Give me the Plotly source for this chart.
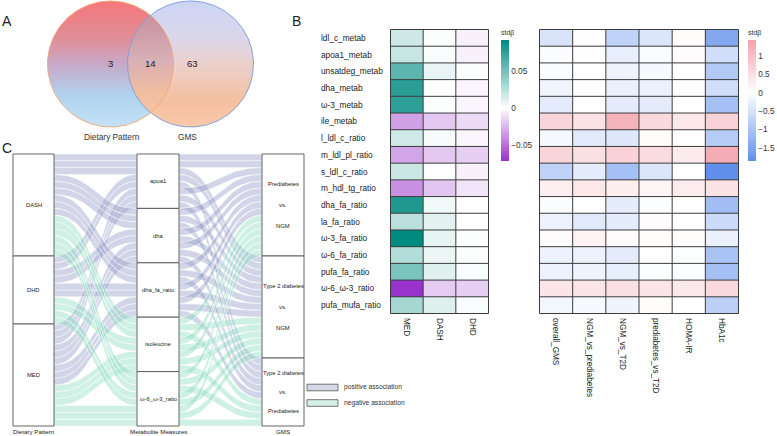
import numpy as np
import plotly.graph_objects as go

W, H = 777, 436
FONT = "Liberation Sans, Arial, sans-serif"

# ---------------- data ----------------
# Panel A: Venn counts
venn_labels = ["Dietary Pattern", "GMS"]
venn_counts = [3, 14, 63]          # only dietary, shared, only GMS

# Panel B: heatmaps (std beta)
metab_rows = ["ldl_c_metab", "apoa1_metab", "unsatdeg_metab", "dha_metab", "ω-3_metab",
              "ile_metab", "l_ldl_c_ratio", "m_ldl_pl_ratio", "s_ldl_c_ratio", "m_hdl_tg_ratio",
              "dha_fa_ratio", "la_fa_ratio", "ω-3_fa_ratio", "ω-6_fa_ratio", "pufa_fa_ratio",
              "ω-6_ω-3_ratio", "pufa_mufa_ratio"]
diet_cols = ["MED", "DASH", "DHD"]
med_beta = [0.018, 0.020, 0.058, 0.076, 0.075, -0.033, 0.017, -0.031, 0.019, -0.038,
            0.080, 0.024, 0.091, 0.027, 0.047, -0.071, 0.032]
dash_beta = [0.001, 0.002, 0.008, 0.000, 0.001, -0.019, 0.003, -0.019, 0.000, -0.020,
             0.005, 0.010, 0.009, 0.007, 0.011, -0.018, 0.012]
dhd_beta = [-0.005, -0.005, 0.001, -0.003, -0.003, -0.013, -0.003, -0.017, -0.005, -0.009,
            0.000, 0.000, 0.001, 0.001, 0.002, -0.017, 0.002]

gms_cols = ["overall_GMS", "NGM_vs_prediabetes", "NGM_vs_T2D", "prediabetes_vs_T2D", "HOMA-IR", "HbA1c"]
overall_gms = [-0.45, -0.05, -0.07, -0.18, -0.33, 0.65, -0.12, 0.65, -0.75, 0.25,
               -0.05, -0.22, 0.06, -0.22, -0.22, 0.40, -0.15]
ngm_vs_pre = [0.03, 0.03, 0.00, 0.00, 0.02, 0.45, -0.35, 0.50, -0.30, 0.38,
              0.02, -0.35, 0.20, -0.22, -0.18, 0.40, -0.10]
ngm_vs_t2d = [-0.75, -0.28, -0.20, -0.25, -0.32, 1.20, -0.38, 0.72, -1.05, 0.28,
              -0.30, -0.30, 0.06, -0.32, -0.28, 0.50, -0.18]
pre_vs_t2d = [-0.42, -0.05, -0.10, -0.22, -0.32, 0.60, 0.05, 0.55, -0.42, 0.15,
              -0.03, 0.04, 0.05, 0.02, -0.03, 0.40, 0.05]
homa_ir = [0.05, 0.04, 0.00, 0.00, 0.02, 0.38, 0.00, 0.32, 0.00, 0.30,
           0.00, 0.00, 0.05, -0.02, -0.04, 0.35, 0.00]
hba1c = [-1.45, -0.55, -0.90, -0.55, -1.05, 0.70, -0.85, 1.30, -1.86, 0.45,
         -1.10, -0.60, -0.25, -1.00, -1.05, 0.60, -0.80]

# Panel C: alluvial (one entry per alluvium)
diet_strata = ["DASH", "DHD", "MED"]
metab_strata = ["apoa1", "dha", "dha_fa_ratio", "isoleucine", "ω-6_ω-3_ratio"]
metab_assoc = ["positive", "positive", "positive", "negative", "negative"]
gms_strata = ["Prediabetes vs. NGM", "Type 2 diabetes vs. NGM", "Type 2 diabetes vs. Prediabetes"]
allu_metab = (["apoa1"] * 8 + ["dha"] * 8 + ["dha_fa_ratio"] * 8 +
              ["isoleucine"] * 8 + ["ω-6_ω-3_ratio"] * 8)
allu_diet = ["DASH", "DASH", "DASH", "DHD", "DHD", "MED", "MED", "MED",
             "DASH", "DASH", "DASH", "DHD", "DHD", "MED", "MED", "MED",
             "DASH", "DASH", "DASH", "DHD", "DHD", "MED", "MED", "MED",
             "DASH", "DASH", "DASH", "DHD", "DHD", "MED", "MED", "MED",
             "DASH", "DASH", "DASH", "DHD", "DHD", "MED", "MED", "MED"]
P, N, T = gms_strata
allu_gms = [P, P, N, T, N, P, N, T,
            N, T, P, P, N, P, N, T,
            P, N, T, N, P, N, P, T,
            P, N, T, P, N, P, N, T,
            T, N, P, P, N, N, P, T]

# ---------------- figure ----------------
fig = go.Figure()

def px(x):
    return x / W

def py(y):
    return 1 - y / H

# ---- Panel A: Venn ----
cyL, cxL, rL = 64, 110.5, 63
cyR, cxR, rR = 64, 190.5, 63
th = np.linspace(0, 2 * np.pi, 200)

def circle(cx, cy, r):
    return cx + r * np.cos(th), cy + r * np.sin(th)

xL, yL = circle(cxL, cyL, rL)
xR, yR = circle(cxR, cyR, rR)
fig.add_trace(go.Scatter(x=xL, y=yL, mode="lines", fill="toself", line=dict(width=0),
                         fillgradient=dict(type="vertical", start=cyL - rL, stop=cyL + rL,
                                           colorscale=[[0, "#f5777a"], [0.3, "#e08e99"], [0.5, "#c8a8c8"],
                                                       [0.75, "#afd3ee"], [1, "#c4e1f6"]]),
                         hoverinfo="skip", showlegend=False))
fig.add_trace(go.Scatter(x=xR, y=yR, mode="lines", fill="toself", line=dict(width=0),
                         fillgradient=dict(type="vertical", start=cyR - rR, stop=cyR + rR,
                                           colorscale=[[0, "#ccd5f5"], [0.3, "#dcd6ea"], [0.5, "#ebd0cc"],
                                                       [0.8, "#f5c09f"], [1, "#f8c9ab"]]),
                         hoverinfo="skip", showlegend=False))
# lens (intersection)
dcen = cxR - cxL
half = np.arccos((dcen / 2) / rL)
aL = np.linspace(-half, half, 60)
aR = np.linspace(np.pi - half, np.pi + half, 60)[::-1]
lx = np.concatenate([cxL + rL * np.cos(aL), cxR + rR * np.cos(aR)])
ly = np.concatenate([cyL + rL * np.sin(aL), cyR + rR * np.sin(aR)])
fig.add_trace(go.Scatter(x=lx, y=ly, mode="lines", fill="toself", line=dict(width=0),
                         fillgradient=dict(type="vertical", start=ly.min(), stop=ly.max(),
                                           colorscale=[[0, "#c8919f"], [0.45, "#d7afb6"],
                                                       [0.8, "#f1bea0"], [1, "#f4c3a6"]]),
                         hoverinfo="skip", showlegend=False))
fig.add_trace(go.Scatter(x=xL, y=yL, mode="lines", line=dict(color="#f2a676", width=0.9),
                         hoverinfo="skip", showlegend=False))
fig.add_trace(go.Scatter(x=xR, y=yR, mode="lines", line=dict(color="#7b98d8", width=0.9),
                         hoverinfo="skip", showlegend=False))

annos = []
def txt(x, y, s, size, color="#222", xanchor="center", xref="x", yref="y"):
    annos.append(dict(x=x, y=y, text=s, xref=xref, yref=yref, showarrow=False,
                      xanchor=xanchor, yanchor="middle",
                      font=dict(family=FONT, size=size, color=color)))

txt(cxL, 63, str(venn_counts[0]), 9.5)
txt((cxL + cxR) / 2 - 0.5, 63, str(venn_counts[1]), 9.5)
txt(cxR + 1.5, 63, str(venn_counts[2]), 9.5)
txt(112, 137, venn_labels[0], 8.3, "#333")
txt(187, 137, venn_labels[1], 8.3, "#333")
txt(7, 21, "A", 14)
txt(296, 21, "B", 14)
txt(7, 148, "C", 14)

# ---- Panel C: alluvial ----
top, bot = 154, 426
colx = [(13, 54), (137, 179), (262, 304)]
nA = len(allu_metab)
h = (bot - top) / nA
axes_strata = [diet_strata, metab_strata, gms_strata]
vals = [allu_diet, allu_metab, allu_gms]

def stratum_pos(ax):
    pos, y = {}, top
    for s in axes_strata[ax]:
        c = vals[ax].count(s)
        pos[s] = (y, y + c * h)
        y += c * h
    return pos

spos = [stratum_pos(a) for a in range(3)]
idx = lambda ax, i: axes_strata[ax].index(vals[ax][i])
order_keys = {0: (1, 2), 1: (0, 2), 2: (1, 0)}
lode_y = [[0] * nA for _ in range(3)]
for ax in range(3):
    for s in axes_strata[ax]:
        members = [i for i in range(nA) if vals[ax][i] == s]
        k1, k2 = order_keys[ax]
        members.sort(key=lambda i: (idx(k1, i), idx(k2, i)))
        y0 = spos[ax][s][0]
        for j, i in enumerate(members):
            lode_y[ax][i] = y0 + j * h

fill_col = {"positive": "rgba(146,154,198,0.42)", "negative": "rgba(136,218,190,0.40)"}
tt = np.linspace(0, 1, 40)

def bez(x0, x1, y0, y1, k=0.5):
    b0, b1, b2, b3 = (1 - tt) ** 3, 3 * (1 - tt) ** 2 * tt, 3 * (1 - tt) * tt ** 2, tt ** 3
    xs = b0 * x0 + b1 * (x0 + k * (x1 - x0)) + b2 * (x1 - k * (x1 - x0)) + b3 * x1
    ys = b0 * y0 + b1 * y0 + b2 * y1 + b3 * y1
    return xs, ys

for seg in range(2):
    xa, xb = colx[seg][1], colx[seg + 1][0]
    for i in range(nA):
        assoc = metab_assoc[metab_strata.index(allu_metab[i])]
        ya, yb = lode_y[seg][i], lode_y[seg + 1][i]
        tx, ty = bez(xa, xb, ya, yb)
        bx, by = bez(xa, xb, ya + h, yb + h)
        fig.add_trace(go.Scatter(x=np.concatenate([tx, bx[::-1]]), y=np.concatenate([ty, by[::-1]]),
                                 mode="lines", fill="toself", fillcolor=fill_col[assoc],
                                 line=dict(color="rgba(255,255,255,0.85)", width=0.6),
                                 hoverinfo="skip", showlegend=False))

shapes = []
node_font = 5.8
for ax in range(3):
    x0, x1 = colx[ax]
    for s in axes_strata[ax]:
        y0, y1 = spos[ax][s]
        shapes.append(dict(type="rect", xref="x", yref="y", x0=x0, x1=x1, y0=y0, y1=y1,
                           fillcolor="white", line=dict(color="#555", width=0.9)))
        cx, cy = (x0 + x1) / 2, (y0 + y1) / 2
        if " vs. " in s:
            a, b = s.split(" vs. ")
            off = min(21, (y1 - y0) * 0.28)
            txt(cx, cy - off, a, node_font)
            txt(cx, cy, "vs.", node_font)
            txt(cx, cy + off, b, node_font)
        else:
            txt(cx, cy, s, node_font)
txt(33.5, 431, "Dietary Pattern", 6.2)
txt(158, 431, "Metabolite Measures", 6.2)
txt(283, 431, "GMS", 6.2)

# legend of alluvial
for k, (lab, yy) in enumerate([("positive association", 387.5), ("negative association", 403)]):
    col = "#d6d8e8" if k == 0 else "#d4efe6"
    shapes.append(dict(type="rect", xref="x", yref="y", x0=307, x1=338, y0=yy - 3.3, y1=yy + 3.3,
                       fillcolor=col, line=dict(color="#555", width=0.8)))
    txt(342, yy - 0.5, lab, 6.7, "#333", xanchor="left")

# ---- Panel B: heatmaps ----
z1 = [[m, d, h_] for m, d, h_ in zip(med_beta, dash_beta, dhd_beta)]
z2 = [list(r) for r in zip(overall_gms, ngm_vs_pre, ngm_vs_t2d, pre_vs_t2d, homa_ir, hba1c)]
zmin1, zmax1 = -0.071, 0.091
zmin2, zmax2 = -1.86, 1.44
f1 = -zmin1 / (zmax1 - zmin1)
f2 = -zmin2 / (zmax2 - zmin2)

cb_common = dict(thickness=8, thicknessmode="pixels", lenmode="pixels", len=134,
                 xanchor="left", yanchor="top", y=py(27), outlinewidth=0, ticks="",
                 xpad=0, ypad=0, tickfont=dict(family=FONT, size=8.3, color="#333"),
                 title=dict(text="stdβ", side="top", font=dict(family=FONT, size=7, color="#333")))

fig.add_trace(go.Heatmap(z=z1, x=diet_cols, y=metab_rows, xaxis="x2", yaxis="y2",
                         zmin=zmin1, zmax=zmax1,
                         colorscale=[[0, "#9932cc"], [f1, "#ffffff"], [1, "#008b80"]],
                         colorbar=dict(x=px(501), tickvals=[-0.05, 0, 0.05], **cb_common),
                         hoverinfo="skip"))
fig.add_trace(go.Heatmap(z=z2, x=gms_cols, y=metab_rows, xaxis="x3", yaxis="y3",
                         zmin=zmin2, zmax=zmax2,
                         colorscale=[[0, "#6090ec"], [f2, "#ffffff"], [1, "#f2a3ad"]],
                         colorbar=dict(x=px(748), tickvals=[-1.5, -1, -0.5, 0, 0.5, 1], **cb_common),
                         hoverinfo="skip"))

def grid(xref, yref, ncol, nrow):
    for c in range(ncol + 1):
        shapes.append(dict(type="line", xref=xref, yref=yref, x0=c - 0.5, x1=c - 0.5,
                           y0=-0.5, y1=nrow - 0.5, line=dict(color="#3c3c3c", width=1)))
    for r in range(nrow + 1):
        shapes.append(dict(type="line", xref=xref, yref=yref, x0=-0.5, x1=ncol - 0.5,
                           y0=r - 0.5, y1=r - 0.5, line=dict(color="#3c3c3c", width=1)))

grid("x2", "y2", len(diet_cols), len(metab_rows))
grid("x3", "y3", len(gms_cols), len(metab_rows))

for r in metab_rows:
    annos.append(dict(x=px(319), y=r, xref="paper", yref="y2", text=r, showarrow=False,
                      xanchor="left", yanchor="middle",
                      font=dict(family=FONT, size=8.3, color="#222")))

hm_top, hm_bot = 29, 314
xaxis_hm = dict(tickangle=90, ticks="", showgrid=False, zeroline=False, showline=False,
                tickfont=dict(family=FONT, size=8.2, color="#222"), fixedrange=True,
                automargin=False, ticklabelstandoff=3)
yaxis_hm = dict(autorange="reversed", showticklabels=False, ticks="", showgrid=False,
                zeroline=False, domain=[py(hm_bot), py(hm_top)], fixedrange=True,
                automargin=False)

fig.update_layout(
    width=W, height=H, margin=dict(l=0, r=0, t=0, b=0, autoexpand=False),
    paper_bgcolor="white", plot_bgcolor="white",
    xaxis=dict(domain=[0, 1], range=[0, W], visible=False, fixedrange=True),
    yaxis=dict(domain=[0, 1], range=[H, 0], visible=False, fixedrange=True),
    xaxis2=dict(domain=[px(390), px(489)], anchor="y2", **xaxis_hm),
    yaxis2=dict(anchor="x2", **yaxis_hm),
    xaxis3=dict(domain=[px(539), px(739)], anchor="y3", **xaxis_hm),
    yaxis3=dict(anchor="x3", **yaxis_hm),
    shapes=shapes, annotations=annos, showlegend=False,
)

fig.write_html("out.html", config={"displayModeBar": False},
               post_script="document.body.style.margin='0px';document.body.style.overflow='hidden';")
